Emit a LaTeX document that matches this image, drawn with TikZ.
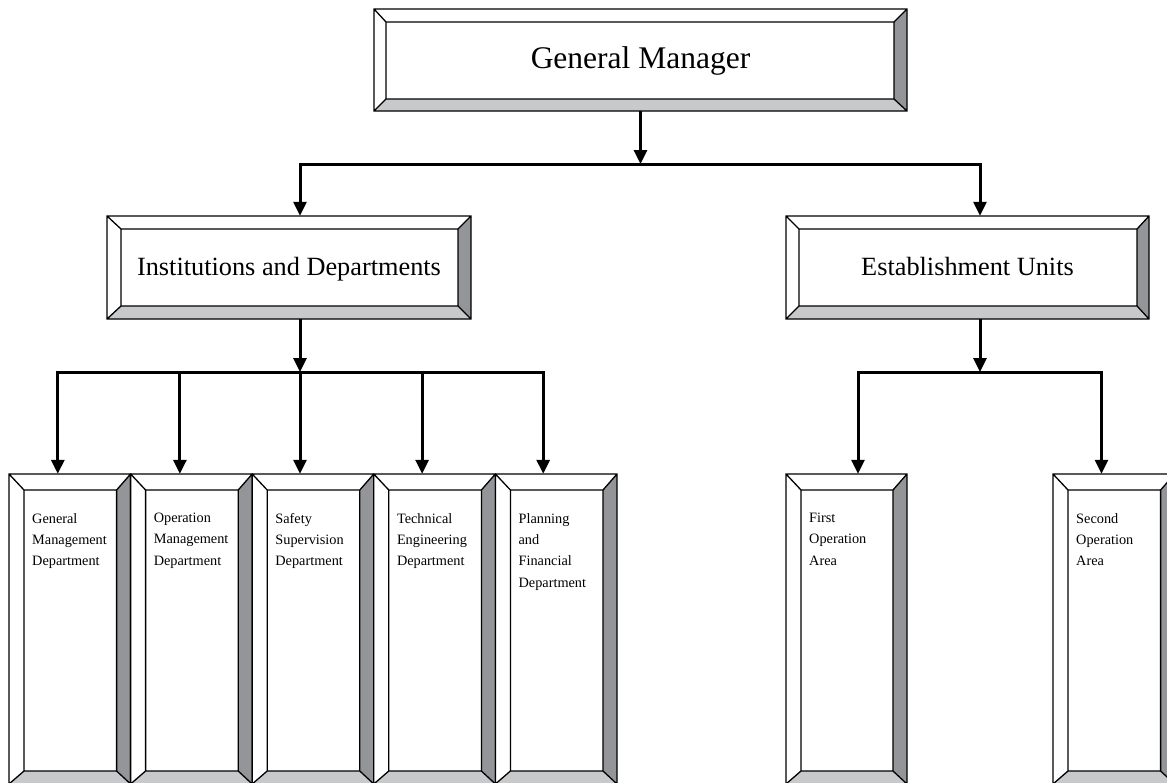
\documentclass[tikz,border=0pt]{standalone}
\usepackage{fontspec}
\setmainfont{Liberation Serif}
\usetikzlibrary{arrows.meta,calc}
\definecolor{bevdark}{HTML}{939598}
\definecolor{bevlight}{HTML}{C8C9CB}
\tikzset{
  boxline/.style={line width=1.3pt, line join=miter},
  boxnode/.style={draw=none, inner sep=0pt, rectangle},
  arr/.style={line width=3pt, -{Triangle[length=14pt,width=13pt]}},
  bigtext/.style={font=\fontsize{31.5}{36}\selectfont, inner sep=0pt},
  midtext/.style={font=\fontsize{26.3}{30}\selectfont, inner sep=0pt},
  smalltext/.style={font=\fontsize{14.3}{21.3}\selectfont, inner sep=0pt, align=left, anchor=north west},
}
\newcommand{\bevelbox}[9]{%
 \coordinate (#1-o1) at (#2,#3);
 \coordinate (#1-o2) at (#4,#3);
 \coordinate (#1-o3) at (#4,#5);
 \coordinate (#1-o4) at (#2,#5);
 \coordinate (#1-i1) at ({#2+#6},{#3+#7});
 \coordinate (#1-i2) at ({#4-#8},{#3+#7});
 \coordinate (#1-i3) at ({#4-#8},{#5-#9});
 \coordinate (#1-i4) at ({#2+#6},{#5-#9});
 \fill[white] (#1-o1) rectangle (#1-o3);
 \fill[bevdark] (#1-o2) -- (#1-o3) -- (#1-i3) -- (#1-i2) -- cycle;
 \fill[bevlight] (#1-o4) -- (#1-o3) -- (#1-i3) -- (#1-i4) -- cycle;
 \draw[boxline] (#1-o1) rectangle (#1-o3) (#1-i1) rectangle (#1-i3)
   (#1-o1) -- (#1-i1) (#1-o2) -- (#1-i2) (#1-o3) -- (#1-i3) (#1-o4) -- (#1-i4);
 \node[boxnode, minimum width={#4-#2}, minimum height={#5-#3}] (#1) at ({(#2+#4)/2},{(#3+#5)/2}) {};
}
\begin{document}
\begin{tikzpicture}[x=1pt,y=-1pt]
\useasboundingbox (0,0) rectangle (1167,782);
\clip (0,0) rectangle (1167,782);

% top level
\bevelbox{gm}{374}{9}{907}{111}{12}{13}{13}{12}
\node[bigtext, anchor=base] (gmt) at (640.5,68) {General Manager};

% second level
\bevelbox{inst}{107}{216}{471}{319}{14}{13}{13}{13}
\node[midtext, anchor=base] (instt) at (289,275) {Institutions and Departments};
\bevelbox{est}{786}{216}{1149}{319}{13}{13}{12}{13}
\node[midtext, anchor=base] (estt) at (967.5,275) {Establishment Units};

% departments
\bevelbox{d1}{9}{474}{130.6}{784}{15}{16}{14}{13}
\bevelbox{d2}{130.6}{474}{252.2}{784}{15}{16}{14}{13}
\bevelbox{d3}{252.2}{474}{373.8}{784}{15}{16}{14}{13}
\bevelbox{d4}{373.8}{474}{495.4}{784}{15}{16}{14}{13}
\bevelbox{d5}{495.4}{474}{617}{784}{15}{16}{14}{13}
\bevelbox{a1}{786}{474}{907}{784}{15}{16}{14}{13}
\bevelbox{a2}{1053}{474}{1174.6}{784}{15}{16}{14}{13}

\node[smalltext] (d1t) at ($(d1-i1)+(8,23)$) {General\\Management\\Department};
\node[smalltext] (d2t) at ($(d2-i1)+(8,23)$) {Operation\\Management\\Department};
\node[smalltext] (d3t) at ($(d3-i1)+(8,23)$) {Safety\\Supervision\\Department};
\node[smalltext] (d4t) at ($(d4-i1)+(8,23)$) {Technical\\Engineering\\Department};
\node[smalltext] (d5t) at ($(d5-i1)+(8,23)$) {Planning\\and\\Financial\\Department};
\node[smalltext] (a1t) at ($(a1-i1)+(8,23)$) {First\\Operation\\Area};
\node[smalltext] (a2t) at ($(a2-i1)+(8,23)$) {Second\\Operation\\Area};

% connectors level 1
\coordinate (bus1) at (640.5,164);
\draw[arr] (gm.south) -- (bus1);
\draw[arr] (bus1) -| ($(inst.north)+(11,0)$);
\draw[arr] (bus1) -| ($(est.north)+(12.5,0)$);

% connectors level 2 (left)
\coordinate (bus2) at (300,372);
\draw[arr] ($(inst.south)+(11,0)$) -- (bus2);
\draw[arr] (bus2) -| ($(d1.north)+(-12,0)$);
\draw[arr] (bus2) -| ($(d2.north)+(-11.5,0)$);
\draw[arr] (bus2) -| ($(d3.north)+(-13,0)$);
\draw[arr] (bus2) -| ($(d4.north)+(-12.5,0)$);
\draw[arr] (bus2) -| ($(d5.north)+(-13,0)$);

% connectors level 2 (right)
\coordinate (bus3) at (980,372);
\draw[arr] ($(est.south)+(12.5,0)$) -- (bus3);
\draw[arr] (bus3) -| ($(a1.north)+(11.5,0)$);
\draw[arr] (bus3) -| ($(a2.north)+(-12.3,0)$);
\end{tikzpicture}
\end{document}
